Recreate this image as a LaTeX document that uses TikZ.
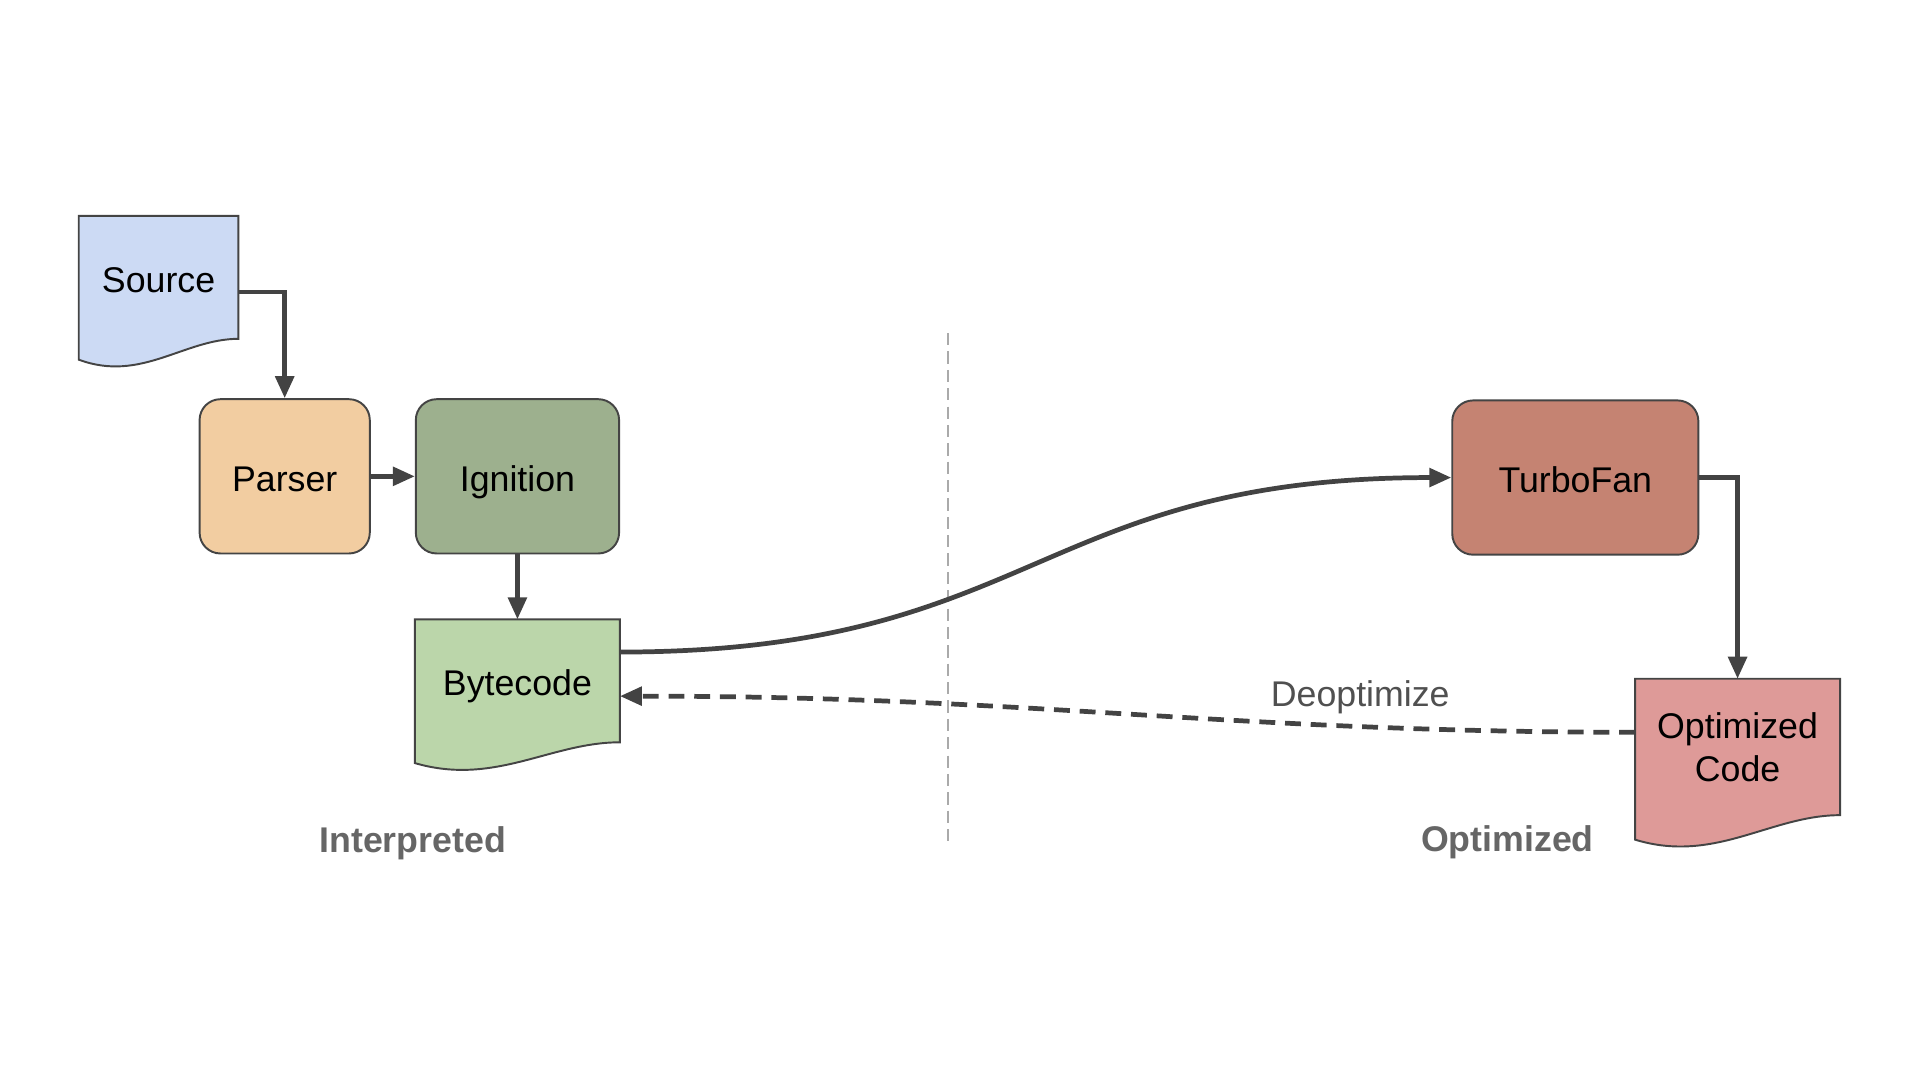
\documentclass[tikz,border=0pt]{standalone}
\usepackage{fontspec}
\setmainfont{Liberation Sans}
\usepackage{xcolor}
\usetikzlibrary{arrows.meta,positioning,calc,backgrounds}

\definecolor{srcblue}{RGB}{204,218,244}
\definecolor{parserorange}{RGB}{242,205,161}
\definecolor{ignitiongreen}{RGB}{157,176,142}
\definecolor{bytegreen}{RGB}{187,214,170}
\definecolor{turbored}{RGB}{197,131,114}
\definecolor{optred}{RGB}{222,154,152}
\definecolor{edgegray}{RGB}{68,68,68}
\definecolor{linegray}{RGB}{67,67,67}
\definecolor{divgray}{RGB}{170,170,170}
\definecolor{sidegray}{RGB}{102,102,102}
\definecolor{deogray}{RGB}{80,80,80}

\begin{document}
\begin{tikzpicture}[every node/.style={font=\fontsize{8.3}{10}\selectfont},
  box/.style={draw=edgegray, line width=0.45pt, rounded corners=0.17cm, minimum height=1.26cm, inner sep=0pt,
    text height=0.25cm, text depth=0.01cm},
  doc/.style={inner sep=0pt, align=center},
  oneline/.style={text height=0.25cm, text depth=0.01cm},
  docline/.style={draw=edgegray, line width=0.45pt},
  flow/.style={-{Triangle[length=0.18cm,width=0.15cm]}, line width=1.1pt, draw=linegray},
  deo/.style={flow, dash pattern=on 0.13cm off 0.08cm},
  side/.style={font=\fontsize{8.3}{10}\selectfont\bfseries, text=sidegray},
  divline/.style={draw=divgray, line width=0.4pt, dash pattern=on 0.1cm off 0.05cm}]

  \useasboundingbox (0,0) rectangle (15.68,8.82);

  % ara çizgi (yorumlanan / optimize edilen)
  \coordinate (divtop) at (7.74,6.10);
  \coordinate (divbot) at (7.74,1.90);
  \draw[divline] (divtop) -- (divbot);

  % düğümler
  \node[doc, oneline, minimum width=1.29cm, minimum height=0.99cm] (src) at (1.295,6.555) {Source};
  \node[box, fill=parserorange, minimum width=1.39cm] (parser) at (2.325,4.93) {Parser};
  \node[box, fill=ignitiongreen, minimum width=1.66cm, right=0.36cm of parser] (ignition) {Ignition};
  \node[doc, oneline, minimum width=1.66cm, minimum height=0.99cm, below=0.53cm of ignition] (byte) {Bytecode};
  \node[box, fill=turbored, minimum width=2.01cm] (turbo) at (12.865,4.92) {TurboFan};
  \node[doc, minimum width=1.66cm, minimum height=1.10cm] (opt) at (14.19,2.72) {Optimized\\Code};

  % belge şekilleri (dalgalı alt kenar)
  \begin{scope}[on background layer]
    \filldraw[docline, fill=srcblue] (src.north west) -- (src.north east) -- (src.south east)
      .. controls ($(src.south west)!0.66!(src.south east)$) and ($(src.south west)!0.39!(src.south east)+(0,-0.36)$) .. ($(src.south west)+(0,-0.17)$) -- cycle;
    \filldraw[docline, fill=bytegreen] (byte.north west) -- (byte.north east) -- (byte.south east)
      .. controls ($(byte.south west)!0.66!(byte.south east)$) and ($(byte.south west)!0.39!(byte.south east)+(0,-0.36)$) .. ($(byte.south west)+(0,-0.17)$) -- cycle;
    \filldraw[docline, fill=optred] (opt.north west) -- (opt.north east) -- (opt.south east)
      .. controls ($(opt.south west)!0.66!(opt.south east)$) and ($(opt.south west)!0.39!(opt.south east)+(0,-0.40)$) .. ($(opt.south west)+(0,-0.20)$) -- cycle;
  \end{scope}

  % oklar
  \draw[flow] ([yshift=-0.12cm]src.east) -| (parser.north);
  \draw[flow] (parser) -- (ignition);
  \draw[flow] (ignition) -- (byte);
  \draw[flow] ([yshift=0.235cm]byte.east) to[out=0,in=180,looseness=1.25] (turbo.west);
  \draw[flow] (turbo.east) -| (opt.north);
  \draw[deo] ([yshift=0.12cm]opt.west) to[out=180,in=0,looseness=1.04]
    node[pos=0.25, yshift=0.24cm, text=deogray] (deolabel) {Deoptimize} ([yshift=-0.125cm]byte.east);

  % bölge etiketleri
  \node[side] (interp) at (3.37,1.93) {Interpreted};
  \node[side] (optzone) at (12.31,1.94) {Optimized};
\end{tikzpicture}
\end{document}
